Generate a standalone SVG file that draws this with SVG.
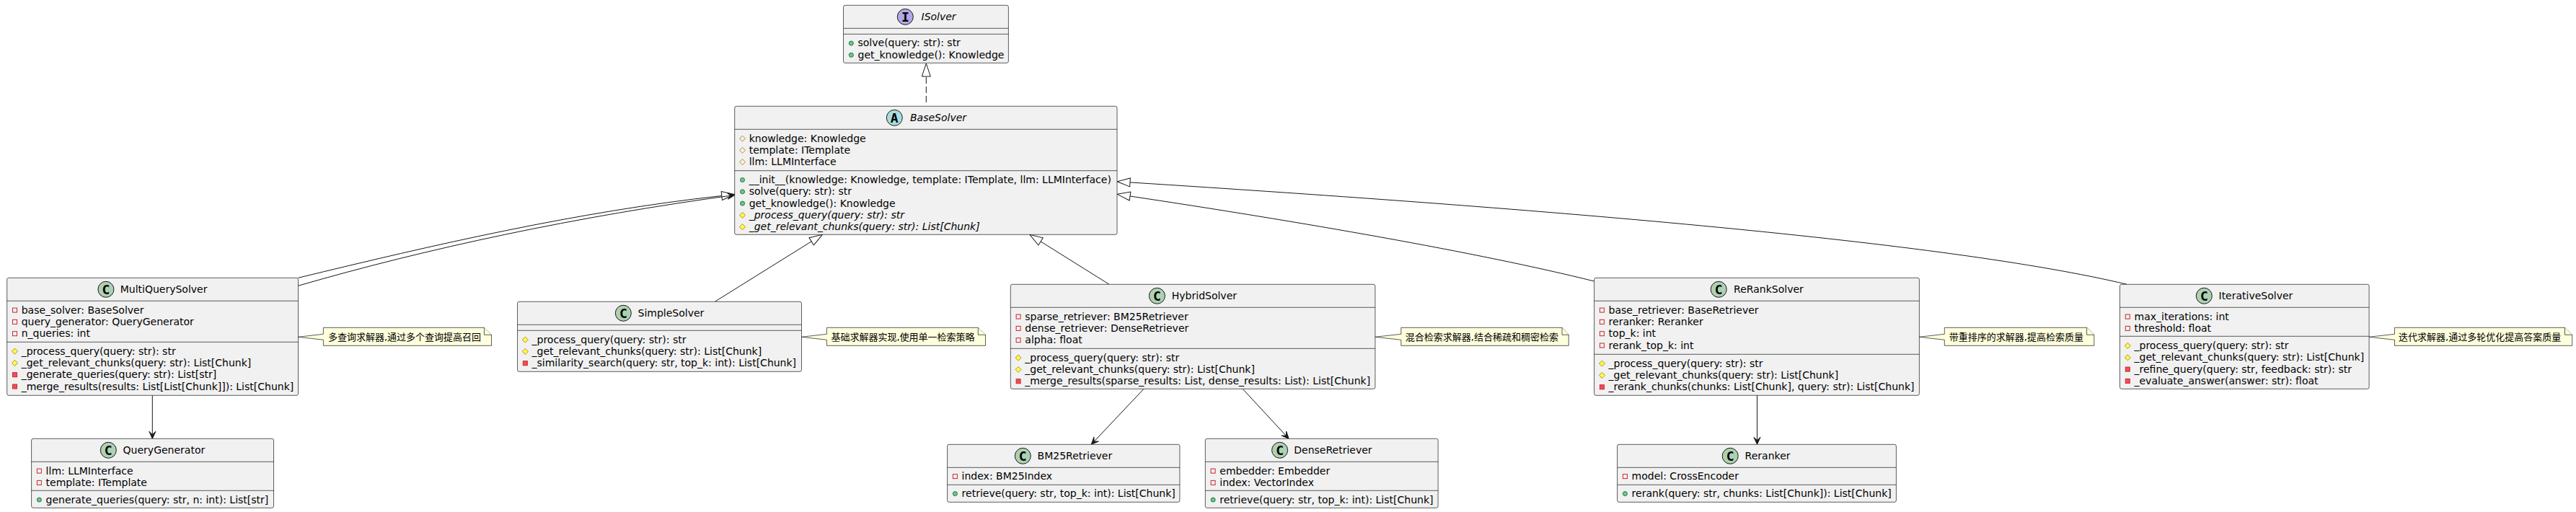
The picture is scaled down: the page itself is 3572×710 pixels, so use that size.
<svg xmlns="http://www.w3.org/2000/svg" width="3572" height="710" viewBox="0 0 3572 710">
<style>
text{font-family:"DejaVu Sans","Noto Sans CJK SC",sans-serif;font-size:14px;fill:#000}
.box{fill:#F1F1F1;stroke:#181818;stroke-width:.7}
.sep{stroke:#181818;stroke-width:.7}
.c{stroke:#181818;stroke-width:1}
.cC{fill:#ADD1B2}.cI{fill:#B4A7E5}.cA{fill:#A9DCDF}
.let{font-family:"DejaVu Sans Mono",monospace;font-weight:bold;font-size:18px;text-anchor:middle}
.i{font-style:italic}
.note{fill:#FEFFDD;stroke:#181818;stroke-width:.7}
.nt{font-size:13px}
.ln{fill:none;stroke:#181818;stroke-width:1}
</style>
<defs>
<circle id="pub" r="3" fill="#84BE84" stroke="#038048"/>
<rect id="apriv" x="-3" y="-3" width="6" height="6" fill="none" stroke="#C82930"/>
<rect id="mpriv" x="-3" y="-3" width="6" height="6" fill="#F24D5C" stroke="#C82930"/>
<polygon id="aprot" points="0,-4 4,0 0,4 -4,0" fill="none" stroke="#B38D22"/>
<polygon id="mprot" points="0,-4 4,0 0,4 -4,0" fill="#FFFF44" stroke="#B38D22"/>
<marker id="tri" markerUnits="userSpaceOnUse" markerWidth="20" markerHeight="14" refX="0.5" refY="7" orient="auto" overflow="visible"><polygon points="0.5,1 18.5,7 0.5,13" fill="none" stroke="#181818"/></marker>
<marker id="open" markerUnits="userSpaceOnUse" markerWidth="12" markerHeight="12" refX="10" refY="6" orient="auto" overflow="visible"><polygon points="10,6 0,1.5 4.5,6 0,10.5" fill="#181818" stroke="#181818"/></marker>
</defs>
<g id="connectors">
<line class="ln" x1="1284.3" y1="142" x2="1284.3" y2="106" stroke-dasharray="9,4" marker-end="url(#tri)"/>
<path class="ln" d="M413.5,385.3C600,340 800,293.5 1000.8,271.5" marker-end="url(#tri)"/>
<path class="ln" d="M413.5,396.3C590,345 800,300 1018.7,270.5" marker-end="url(#open)"/>
<line class="ln" x1="991.3" y1="418.3" x2="1125.2" y2="334.8" marker-end="url(#tri)"/>
<line class="ln" x1="1538" y1="394.3" x2="1443.1" y2="334.9" marker-end="url(#tri)"/>
<path class="ln" d="M2210.6,390C2050,350 1800,307 1567,272" marker-end="url(#tri)"/>
<path class="ln" d="M2949.2,394.3C2700,335 2150,290 1567,252.9" marker-end="url(#tri)"/>
<line class="ln" x1="211.3" y1="548.3" x2="211.3" y2="608.3" marker-end="url(#open)"/>
<line class="ln" x1="1586" y1="539.3" x2="1513.3" y2="616.3" marker-end="url(#open)"/>
<line class="ln" x1="1723.2" y1="539.3" x2="1787.1" y2="608.3" marker-end="url(#open)"/>
<line class="ln" x1="2436.5" y1="548.3" x2="2436.5" y2="616.3" marker-end="url(#open)"/>
</g>
<g id="ISolver" transform="translate(1169.5,7.3)">
<rect class="box" width="228.9" height="80" rx="2.5"/>
<line class="sep" x2="228.9" y1="32" y2="32"/><line class="sep" x2="228.9" y1="40" y2="40"/>
<circle class="c cI" cx="85.8" cy="16" r="11"/><text class="let" x="85.8" y="22.5">I</text>
<text class="i" x="108" y="21">ISolver</text>
<use href="#pub" x="10.8" y="52.7"/><text x="20" y="57">solve(query: str): str</text>
<use href="#pub" x="10.8" y="69"/><text x="20" y="73.3">get_knowledge(): Knowledge</text>
</g>
<g id="BaseSolver" transform="translate(1018.7,147.3)">
<rect class="box" width="530.3" height="178" rx="2.5"/>
<line class="sep" x2="530.3" y1="32" y2="32"/><line class="sep" x2="530.3" y1="89.4" y2="89.4"/>
<circle class="c cA" cx="221.6" cy="16" r="11"/><text class="let" x="221.6" y="22.5">A</text>
<text class="i" x="243.3" y="21">BaseSolver</text>
<use href="#aprot" x="10.8" y="44.8"/><text x="20" y="49.5">knowledge: Knowledge</text>
<use href="#aprot" x="10.8" y="61.1"/><text x="20" y="65.8">template: ITemplate</text>
<use href="#aprot" x="10.8" y="77.4"/><text x="20" y="82.1">llm: LLMInterface</text>
<use href="#pub" x="10.8" y="102.2"/><text x="20" y="106.9">__init__(knowledge: Knowledge, template: ITemplate, llm: LLMInterface)</text>
<use href="#pub" x="10.8" y="118.5"/><text x="20" y="123.2">solve(query: str): str</text>
<use href="#pub" x="10.8" y="134.8"/><text x="20" y="139.5">get_knowledge(): Knowledge</text>
<use href="#mprot" x="10.8" y="151.1"/><text class="i" x="20" y="155.8">_process_query(query: str): str</text>
<use href="#mprot" x="10.8" y="167.4"/><text class="i" x="20" y="172.1">_get_relevant_chunks(query: str): List[Chunk]</text>
</g>
<g id="MultiQuerySolver" transform="translate(9.7,385.3)">
<rect class="box" width="403.8" height="163" rx="2.5"/>
<line class="sep" x2="403.8" y1="32" y2="32"/><line class="sep" x2="403.8" y1="89" y2="89"/>
<circle class="c cC" cx="137.2" cy="16" r="11"/><text class="let" x="137.2" y="22.5">C</text>
<text x="157" y="21">MultiQuerySolver</text>
<use href="#apriv" x="10.8" y="44.8"/><text x="20" y="49.5">base_solver: BaseSolver</text>
<use href="#apriv" x="10.8" y="61.1"/><text x="20" y="65.8">query_generator: QueryGenerator</text>
<use href="#apriv" x="10.8" y="77.4"/><text x="20" y="82.1">n_queries: int</text>
<use href="#mprot" x="10.8" y="101.8"/><text x="20" y="106.5">_process_query(query: str): str</text>
<use href="#mprot" x="10.8" y="118.1"/><text x="20" y="122.8">_get_relevant_chunks(query: str): List[Chunk]</text>
<use href="#mpriv" x="10.8" y="134.4"/><text x="20" y="139.1">_generate_queries(query: str): List[str]</text>
<use href="#mpriv" x="10.8" y="150.7"/><text x="20" y="155.4">_merge_results(results: List[List[Chunk]]): List[Chunk]</text>
</g>
<g id="QueryGenerator" transform="translate(43.6,608.3)">
<rect class="box" width="335.9" height="96" rx="2.5"/>
<line class="sep" x2="335.9" y1="32" y2="32"/><line class="sep" x2="335.9" y1="72" y2="72"/>
<circle class="c cC" cx="106.7" cy="16" r="11"/><text class="let" x="106.7" y="22.5">C</text>
<text x="127" y="21">QueryGenerator</text>
<use href="#apriv" x="10.8" y="44.8"/><text x="20" y="49.5">llm: LLMInterface</text>
<use href="#apriv" x="10.8" y="61.1"/><text x="20" y="65.8">template: ITemplate</text>
<use href="#pub" x="10.8" y="84.8"/><text x="20" y="89.5">generate_queries(query: str, n: int): List[str]</text>
</g>
<g id="SimpleSolver" transform="translate(717.5,418.3)">
<rect class="box" width="394" height="97" rx="2.5"/>
<line class="sep" x2="394" y1="32" y2="32"/><line class="sep" x2="394" y1="40" y2="40"/>
<circle class="c cC" cx="146.8" cy="16" r="11"/><text class="let" x="146.8" y="22.5">C</text>
<text x="167" y="21">SimpleSolver</text>
<use href="#mprot" x="10.8" y="52.8"/><text x="20" y="57.5">_process_query(query: str): str</text>
<use href="#mprot" x="10.8" y="69.1"/><text x="20" y="73.8">_get_relevant_chunks(query: str): List[Chunk]</text>
<use href="#mpriv" x="10.8" y="85.4"/><text x="20" y="90.1">_similarity_search(query: str, top_k: int): List[Chunk]</text>
</g>
<g id="HybridSolver" transform="translate(1401.3,394.3)">
<rect class="box" width="505.6" height="145" rx="2.5"/>
<line class="sep" x2="505.6" y1="32" y2="32"/><line class="sep" x2="505.6" y1="89" y2="89"/>
<circle class="c cC" cx="203.1" cy="16" r="11"/><text class="let" x="203.1" y="22.5">C</text>
<text x="223.5" y="21">HybridSolver</text>
<use href="#apriv" x="10.8" y="44.8"/><text x="20" y="49.5">sparse_retriever: BM25Retriever</text>
<use href="#apriv" x="10.8" y="61.1"/><text x="20" y="65.8">dense_retriever: DenseRetriever</text>
<use href="#apriv" x="10.8" y="77.4"/><text x="20" y="82.1">alpha: float</text>
<use href="#mprot" x="10.8" y="101.8"/><text x="20" y="106.5">_process_query(query: str): str</text>
<use href="#mprot" x="10.8" y="118.1"/><text x="20" y="122.8">_get_relevant_chunks(query: str): List[Chunk]</text>
<use href="#mpriv" x="10.8" y="134.4"/><text x="20" y="139.1">_merge_results(sparse_results: List, dense_results: List): List[Chunk]</text>
</g>
<g id="BM25Retriever" transform="translate(1313.6,616.3)">
<rect class="box" width="322.3" height="80" rx="2.5"/>
<line class="sep" x2="322.3" y1="32" y2="32"/><line class="sep" x2="322.3" y1="56" y2="56"/>
<circle class="c cC" cx="104.7" cy="16" r="11"/><text class="let" x="104.7" y="22.5">C</text>
<text x="125" y="21">BM25Retriever</text>
<use href="#apriv" x="10.8" y="44.3"/><text x="20" y="49">index: BM25Index</text>
<use href="#pub" x="10.8" y="68.3"/><text x="20" y="73">retrieve(query: str, top_k: int): List[Chunk]</text>
</g>
<g id="DenseRetriever" transform="translate(1671.3,608.3)">
<rect class="box" width="322.8" height="96" rx="2.5"/>
<line class="sep" x2="322.8" y1="32" y2="32"/><line class="sep" x2="322.8" y1="72" y2="72"/>
<circle class="c cC" cx="103.3" cy="16" r="11"/><text class="let" x="103.3" y="22.5">C</text>
<text x="123" y="21">DenseRetriever</text>
<use href="#apriv" x="10.8" y="44.8"/><text x="20" y="49.5">embedder: Embedder</text>
<use href="#apriv" x="10.8" y="61.1"/><text x="20" y="65.8">index: VectorIndex</text>
<use href="#pub" x="10.8" y="84.8"/><text x="20" y="89.5">retrieve(query: str, top_k: int): List[Chunk]</text>
</g>
<g id="ReRankSolver" transform="translate(2210.6,385.3)">
<rect class="box" width="450.8" height="163" rx="2.5"/>
<line class="sep" x2="450.8" y1="32" y2="32"/><line class="sep" x2="450.8" y1="106" y2="106"/>
<circle class="c cC" cx="172.6" cy="16" r="11"/><text class="let" x="172.6" y="22.5">C</text>
<text x="193.5" y="21">ReRankSolver</text>
<use href="#apriv" x="10.8" y="44.8"/><text x="20" y="49.5">base_retriever: BaseRetriever</text>
<use href="#apriv" x="10.8" y="61.1"/><text x="20" y="65.8">reranker: Reranker</text>
<use href="#apriv" x="10.8" y="77.4"/><text x="20" y="82.1">top_k: int</text>
<use href="#apriv" x="10.8" y="93.7"/><text x="20" y="98.4">rerank_top_k: int</text>
<use href="#mprot" x="10.8" y="118.8"/><text x="20" y="123.5">_process_query(query: str): str</text>
<use href="#mprot" x="10.8" y="135.1"/><text x="20" y="139.8">_get_relevant_chunks(query: str): List[Chunk]</text>
<use href="#mpriv" x="10.8" y="151.4"/><text x="20" y="156.1">_rerank_chunks(chunks: List[Chunk], query: str): List[Chunk]</text>
</g>
<g id="Reranker" transform="translate(2242.6,616.3)">
<rect class="box" width="386.8" height="80" rx="2.5"/>
<line class="sep" x2="386.8" y1="32" y2="32"/><line class="sep" x2="386.8" y1="56" y2="56"/>
<circle class="c cC" cx="156.6" cy="16" r="11"/><text class="let" x="156.6" y="22.5">C</text>
<text x="177" y="21">Reranker</text>
<use href="#apriv" x="10.8" y="44.3"/><text x="20" y="49">model: CrossEncoder</text>
<use href="#pub" x="10.8" y="68.3"/><text x="20" y="73">rerank(query: str, chunks: List[Chunk]): List[Chunk]</text>
</g>
<g id="IterativeSolver" transform="translate(2939.5,394.3)">
<rect class="box" width="345.6" height="145" rx="2.5"/>
<line class="sep" x2="345.6" y1="32" y2="32"/><line class="sep" x2="345.6" y1="72" y2="72"/>
<circle class="c cC" cx="116.8" cy="16" r="11"/><text class="let" x="116.8" y="22.5">C</text>
<text x="137" y="21">IterativeSolver</text>
<use href="#apriv" x="10.8" y="44.8"/><text x="20" y="49.5">max_iterations: int</text>
<use href="#apriv" x="10.8" y="61.1"/><text x="20" y="65.8">threshold: float</text>
<use href="#mprot" x="10.8" y="85.2"/><text x="20" y="89.9">_process_query(query: str): str</text>
<use href="#mprot" x="10.8" y="101.5"/><text x="20" y="106.2">_get_relevant_chunks(query: str): List[Chunk]</text>
<use href="#mpriv" x="10.8" y="117.8"/><text x="20" y="122.5">_refine_query(query: str, feedback: str): str</text>
<use href="#mpriv" x="10.8" y="134.1"/><text x="20" y="138.8">_evaluate_answer(answer: str): float</text>
</g>
<g id="note-multi">
<path class="note" d="M448.4,454.3H671.4L681.5,464.3V479.3H448.4V471.3L413.5,467.3L448.4,463.3Z"/>
<path class="note" d="M671.4,454.3V464.3H681.5"/>
<text class="nt" x="454.9" y="471.5">多查询求解器,通过多个查询提高召回</text>
</g>
<g id="note-simple">
<path class="note" d="M1146.4,454.3H1356.3L1366.5,464.3V479.3H1146.4V471.3L1111.5,467.3L1146.4,463.3Z"/>
<path class="note" d="M1356.3,454.3V464.3H1366.5"/>
<text class="nt" x="1152.4" y="471.5">基础求解器实现,使用单一检索策略</text>
</g>
<g id="note-hybrid">
<path class="note" d="M1942.8,454.3H2166L2175.2,464.3V479.3H1942.8V471.3L1906.9,467.3L1942.8,463.3Z"/>
<path class="note" d="M2166,454.3V464.3H2175.2"/>
<text class="nt" x="1948.8" y="471.5">混合检索求解器,结合稀疏和稠密检索</text>
</g>
<g id="note-rerank">
<path class="note" d="M2696.3,454.3H2893.6L2903.8,464.3V479.3H2696.3V471.3L2661.4,467.3L2696.3,463.3Z"/>
<path class="note" d="M2893.6,454.3V464.3H2903.8"/>
<text class="nt" x="2702.8" y="471.5">带重排序的求解器,提高检索质量</text>
</g>
<g id="note-iterative">
<path class="note" d="M3320.5,454.3H3556.5L3566.7,464.3V479.3H3320.5V471.3L3285.1,467.3L3320.5,463.3Z"/>
<path class="note" d="M3556.5,454.3V464.3H3566.7"/>
<text class="nt" x="3326" y="471.5">迭代求解器,通过多轮优化提高答案质量</text>
</g>
</svg>
